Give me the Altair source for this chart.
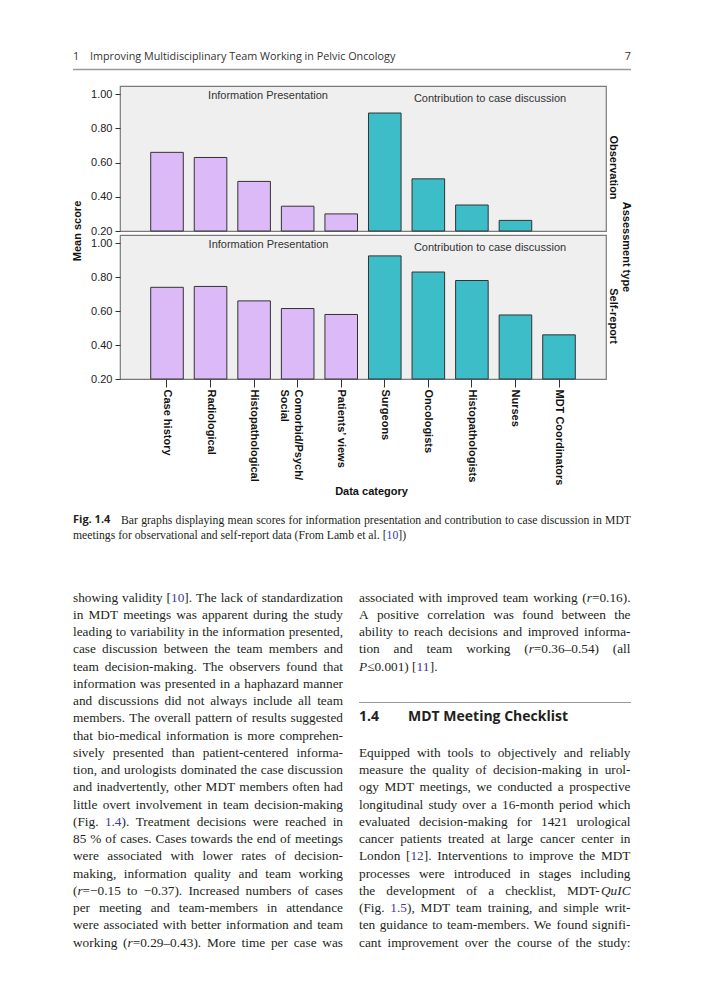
import re
import altair as alt
import pandas as pd

# ---------------- data ----------------
categories = ["Case history", "Radiological", "Histopathological", "Comorbid/Psych/ Social",
              "Patients\u2019 views", "Surgeons", "Oncologists", "Histopathologists", "Nurses",
              "MDT Coordinators"]
groups = ["Information Presentation"] * 5 + ["Contribution to case discussion"] * 5
group_names = ["Information Presentation", "Contribution to case discussion"]
observation = [0.66, 0.63, 0.49, 0.345, 0.30, 0.89, 0.505, 0.352, 0.262, None]
self_report = [0.74, 0.745, 0.66, 0.615, 0.58, 0.925, 0.83, 0.78, 0.577, 0.46]
y_ticks = [0.2, 0.4, 0.6, 0.8, 1.0]

header_number = "1"
header_title = "Improving Multidisciplinary Team Working in Pelvic Oncology"
page_number = "7"
caption_label = "Fig. 1.4"
# markup: _x_ = italic, {x} = link colour
caption_line1 = "Bar graphs displaying mean scores for information presentation and contribution to case discussion in MDT"
caption_line2 = "meetings for observational and self-report data (From Lamb et al. [{10}])"

left_column = [
    "showing validity [{10}]. The lack of standardization",
    "in MDT meetings was apparent during the study",
    "leading to variability in the information presented,",
    "case discussion between the team members and",
    "team decision-making. The observers found that",
    "information was presented in a haphazard manner",
    "and discussions did not always include all team",
    "members. The overall pattern of results suggested",
    "that bio-medical information is more comprehen-",
    "sively presented than patient-centered informa-",
    "tion, and urologists dominated the case discussion",
    "and inadvertently, other MDT members often had",
    "little overt involvement in team decision-making",
    "(Fig. {1.4}). Treatment decisions were reached in",
    "85 % of cases. Cases towards the end of meetings",
    "were associated with lower rates of decision-",
    "making, information quality and team working",
    "(_r_=\u22120.15 to \u22120.37). Increased numbers of cases",
    "per meeting and team-members in attendance",
    "were associated with better information and team",
    "working (_r_=0.29\u20130.43). More time per case was",
]
right_column_a = [
    "associated with improved team working (_r_=0.16).",
    "A positive correlation was found between the",
    "ability to reach decisions and improved informa-",
    "tion and team working (_r_=0.36\u20130.54) (all",
    "_P_\u22640.001) [{11}].",
]
section_number = "1.4"
section_title = "MDT Meeting Checklist"
right_column_b = [
    "Equipped with tools to objectively and reliably",
    "measure the quality of decision-making in urol-",
    "ogy MDT meetings, we conducted a prospective",
    "longitudinal study over a 16-month period which",
    "evaluated decision-making for 1421 urological",
    "cancer patients treated at large cancer center in",
    "London [{12}]. Interventions to improve the MDT",
    "processes were introduced in stages including",
    "the development of a checklist, MDT-_QuIC_",
    "(Fig. {1.5}), MDT team training, and simple writ-",
    "ten guidance to team-members. We found signifi-",
    "cant improvement over the course of the study:",
]

# ---------------- styles ----------------
SANS = "Liberation Sans"
SERIF = "Liberation Serif"
HEAD = "Open Sans"
PURPLE = "#dbbaf7"
TEAL = "#3cbdc8"
INK = "#231f20"
LINK = "#3b3b9c"
BODY_FS = 13.3
CAP_FS = 11.7
LINE_H = 17.25

# panel origins on the page (plot-area top-left)
TOP_X, TOP_Y = 119, 85
BOT_X, BOT_Y = 119, 234

one = pd.DataFrame({"k": [0]})

# approximate Times advance widths (1/1000 em) used to justify text lines
TIMES = {" ": 250, "!": 333, "(": 333, ")": 333, ",": 250, "-": 333, ".": 250, "/": 278,
         ":": 278, ";": 278, "=": 564, "?": 444, "[": 333, "]": 333, "%": 833,
         "\u2212": 564, "\u2013": 500, "\u2264": 549, "\u2019": 333,
         "A": 722, "B": 667, "C": 667, "D": 722, "E": 611, "F": 556, "G": 722, "H": 722,
         "I": 333, "J": 389, "K": 722, "L": 611, "M": 889, "N": 722, "O": 722, "P": 556,
         "Q": 722, "R": 667, "S": 556, "T": 611, "U": 722, "V": 722, "W": 944, "X": 722,
         "Y": 722, "Z": 611,
         "a": 444, "b": 500, "c": 444, "d": 500, "e": 444, "f": 333, "g": 500, "h": 500,
         "i": 278, "j": 278, "k": 500, "l": 278, "m": 778, "n": 500, "o": 500, "p": 500,
         "q": 500, "r": 333, "s": 389, "t": 278, "u": 500, "v": 500, "w": 722, "x": 500,
         "y": 500, "z": 444}
TIMES_ITALIC = {"r": 389, "P": 611, "Q": 722, "u": 500, "I": 333, "C": 667}


def seg_width(s, style, fs):
    table = TIMES_ITALIC if style == "italic" else {}
    return sum(table.get(c, TIMES.get(c, 500)) for c in s) * fs / 1000.0


def split_word(word):
    segs = []
    for part in re.split(r"(_[^_]+_|\{[^}]+\})", word):
        if not part:
            continue
        if part.startswith("_"):
            segs.append((part[1:-1], "italic", INK))
        elif part.startswith("{"):
            segs.append((part[1:-1], "normal", LINK))
        else:
            segs.append((part, "normal", INK))
    return segs


def words_table(lines, x0, x1, base0, fs, justify_last):
    rows = []
    for i, line in enumerate(lines):
        words = [split_word(w) for w in line.split(" ")]
        y = base0 + i * LINE_H
        justify = (i < len(lines) - 1) or justify_last
        widths = [sum(seg_width(s, st, fs) for s, st, _ in w) for w in words]
        if justify and len(words) > 1:
            gap = max((x1 - x0 - sum(widths)) / (len(words) - 1), 0.12 * fs)
        else:
            gap = seg_width(" ", "normal", fs)
        x = x0
        for segs, wd in zip(words, widths):
            sx = x
            for s, st, col in segs:
                rows.append({"word": s, "style": st, "col": col,
                             "px": sx - TOP_X, "py": y - TOP_Y})
                sx += seg_width(s, st, fs)
            x += wd + gap
    return rows


def txt(text, x, y, ox, oy, **kw):
    return alt.Chart(one).mark_text(text=text, **kw).encode(
        x=alt.value(x - ox), y=alt.value(y - oy))


def hrule(x1, x2, y, ox, oy, color, width):
    return alt.Chart(one).mark_rule(color=color, strokeWidth=width).encode(
        x=alt.value(x1 - ox), x2=alt.value(x2 - ox), y=alt.value(y - oy))


def words_layers(rows, fs):
    df = pd.DataFrame(rows)
    out = []
    for style in ["normal", "italic"]:
        sub = df[df["style"] == style]
        if len(sub) == 0:
            continue
        out.append(alt.Chart(sub).mark_text(font=SERIF, fontSize=fs, fontStyle=style,
                                            align="left", baseline="alphabetic").encode(
            x=alt.X("px:Q", scale=None, axis=None),
            y=alt.Y("py:Q", scale=None, axis=None),
            color=alt.Color("col:N", scale=None, legend=None),
            text="word:N"))
    return out


def bars(values, height, show_x):
    df = pd.DataFrame({"category": categories, "group": groups, "score": values})
    df = df.dropna()
    df["base"] = 0.2
    if show_x:
        xaxis = alt.Axis(title=None, labelAngle=90, labelFont=SANS, labelFontSize=11,
                         labelFontWeight="bold", labelColor="#111", tickSize=8,
                         tickColor="#333", domain=False, labelPadding=2, labelLimit=300,
                         labelLineHeight=14,
                         labelExpr="indexof(datum.label, '/ ') > 0 ? "
                                   "[split(datum.label, '/ ')[0] + '/', split(datum.label, '/ ')[1]] : datum.label")
    else:
        xaxis = None
    return alt.Chart(df).mark_bar(stroke="#333", strokeWidth=1).encode(
        x=alt.X("category:N", sort=categories,
                scale=alt.Scale(domain=categories, paddingInner=0.252, paddingOuter=0.705),
                axis=xaxis),
        y=alt.Y("score:Q", scale=alt.Scale(domain=[0.2, 1.048], nice=False, zero=False),
                axis=alt.Axis(values=y_ticks, format=".2f", title=None, domain=False,
                              grid=False, tickSize=5, tickColor="#333", labelFont=SANS,
                              labelFontSize=11, labelColor="#222", labelPadding=3)),
        y2="base:Q",
        color=alt.Color("group:N", scale=alt.Scale(domain=group_names, range=[PURPLE, TEAL]),
                        legend=None),
    ).properties(width=486, height=height)


chart_font = dict(font=SANS, fontSize=11, color="#333")
bold_font = dict(font=SANS, fontSize=11, fontWeight="bold", color="#111")

caption_rows = (words_table([caption_line1], 120, 630, 522.5, CAP_FS, True)
                + words_table([caption_line2], 72, 630, 537.5, CAP_FS, False))
body_rows = (
    words_table(left_column, 72, 342, 600.5, BODY_FS, True)
    + words_table(right_column_a, 358, 629.5, 600.5, BODY_FS, False)
    + words_table(right_column_b, 358, 629.5, 600.5 + 9 * LINE_H, BODY_FS, True)
)

top_layers = [
    bars(observation, 145, False),
    txt(group_names[0], 267, 94.5, TOP_X, TOP_Y, **chart_font),
    txt(group_names[1], 489, 97.5, TOP_X, TOP_Y, **chart_font),
    txt("Observation", 612, 166.5, TOP_X, TOP_Y, angle=90, **bold_font),
    txt("Assessment type", 624.5, 246, TOP_X, TOP_Y, angle=90, **bold_font),
    txt("Mean score", 77, 230, TOP_X, TOP_Y, angle=270, **bold_font),
    txt("Data category", 370.5, 491, TOP_X, TOP_Y, **bold_font),
    # page header
    txt(header_number, 72, 55.5, TOP_X, TOP_Y, font=HEAD, fontSize=10.8, color="#333", align="left"),
    txt(header_title, 89, 55.5, TOP_X, TOP_Y, font=HEAD, fontSize=10.8, color="#333", align="left"),
    txt(page_number, 630, 55.5, TOP_X, TOP_Y, font=HEAD, fontSize=10.8, color="#333", align="right"),
    hrule(72, 630, 68.5, TOP_X, TOP_Y, "#9a9a9a", 1.6),
    # caption
    txt(caption_label, 72, 519, TOP_X, TOP_Y, font=HEAD, fontSize=11, fontWeight="bold", color=INK, align="left"),
    *words_layers(caption_rows, CAP_FS),
    # body text
    *words_layers(body_rows, BODY_FS),
    hrule(358, 630, 701.5, TOP_X, TOP_Y, "#9a9a9a", 1.2),
    txt(section_number, 358, 716, TOP_X, TOP_Y, font=HEAD, fontSize=14, fontWeight="bold", color=INK, align="left"),
    txt(section_title, 407, 716, TOP_X, TOP_Y, font=HEAD, fontSize=14, fontWeight="bold", color=INK, align="left"),
    # layout anchor at page corner (invisible)
    txt(".", 8, 8, TOP_X, TOP_Y, color="white", fontSize=2, align="left", baseline="top"),
]

bottom_layers = [
    bars(self_report, 144, True),
    txt(group_names[0], 267.5, 244, BOT_X, BOT_Y, **chart_font),
    txt(group_names[1], 489, 247, BOT_X, BOT_Y, **chart_font),
    txt("Self-report", 612, 315, BOT_X, BOT_Y, angle=90, **bold_font),
]

top = alt.layer(*top_layers)
bottom = alt.layer(*bottom_layers)

chart = alt.vconcat(top, bottom, spacing=4, bounds="flush").properties(
    padding=0
).configure_view(fill="#efefef", stroke="#7a7a7a", strokeWidth=1.2)

chart.save("out.html", embed_options={"renderer": "svg", "actions": False})
